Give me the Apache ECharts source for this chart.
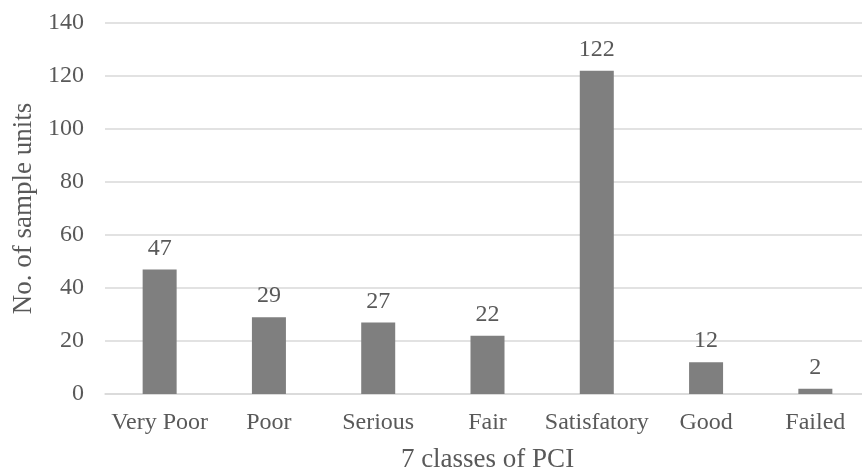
<!DOCTYPE html>
<html>
<head>
<meta charset="utf-8">
<script src="https://cdn.jsdelivr.net/npm/echarts@6/dist/echarts.min.js"></script>
<style>
  html, body { margin: 0; padding: 0; background: #fff; }
  #chart { width: 862px; height: 470px; }
</style>
</head>
<body>
<div id="chart"></div>
<script>
// PCI classes and sample counts
const categories = ['Very Poor', 'Poor', 'Serious', 'Fair', 'Satisfatory', 'Good', 'Failed'];
const sampleUnits = [47, 29, 27, 22, 122, 12, 2];
const yTicks = { min: 0, max: 140, interval: 20 };

const FONT = '"Liberation Serif", "Times New Roman", serif';
const TEXT = '#595959';

const chart = echarts.init(document.getElementById('chart'), null, { renderer: 'canvas' });
chart.setOption({
  animation: false,
  backgroundColor: '#ffffff',
  grid: {
    left: 105, top: 23, width: 765, height: 371,
    containLabel: false,
    outerBoundsMode: 'none'
  },
  xAxis: {
    type: 'category',
    data: categories,
    name: '7 classes of PCI',
    nameLocation: 'middle',
    nameGap: 52,
    nameTextStyle: { fontFamily: FONT, fontSize: 27, color: TEXT },
    axisLine: { show: true, lineStyle: { color: '#d9d9d9', width: 1.5 } },
    axisTick: { show: false },
    axisLabel: { interval: 0, fontFamily: FONT, fontSize: 24, color: TEXT, margin: 17 }
  },
  yAxis: {
    type: 'value',
    min: yTicks.min,
    max: yTicks.max,
    interval: yTicks.interval,
    name: 'No. of sample units',
    nameLocation: 'middle',
    nameGap: 66,
    nameTextStyle: { fontFamily: FONT, fontSize: 27, color: TEXT },
    axisLine: { show: false },
    axisTick: { show: false },
    axisLabel: { fontFamily: FONT, fontSize: 24, color: TEXT, margin: 21 },
    splitLine: { lineStyle: { color: '#d9d9d9', width: 1.5 } }
  },
  series: [{
    type: 'bar',
    data: sampleUnits,
    barWidth: 34,
    itemStyle: { color: '#7f7f7f' },
    label: {
      show: true,
      position: 'top',
      distance: 9,
      fontFamily: FONT,
      fontSize: 24,
      color: TEXT
    }
  }]
});
</script>
</body>
</html>
